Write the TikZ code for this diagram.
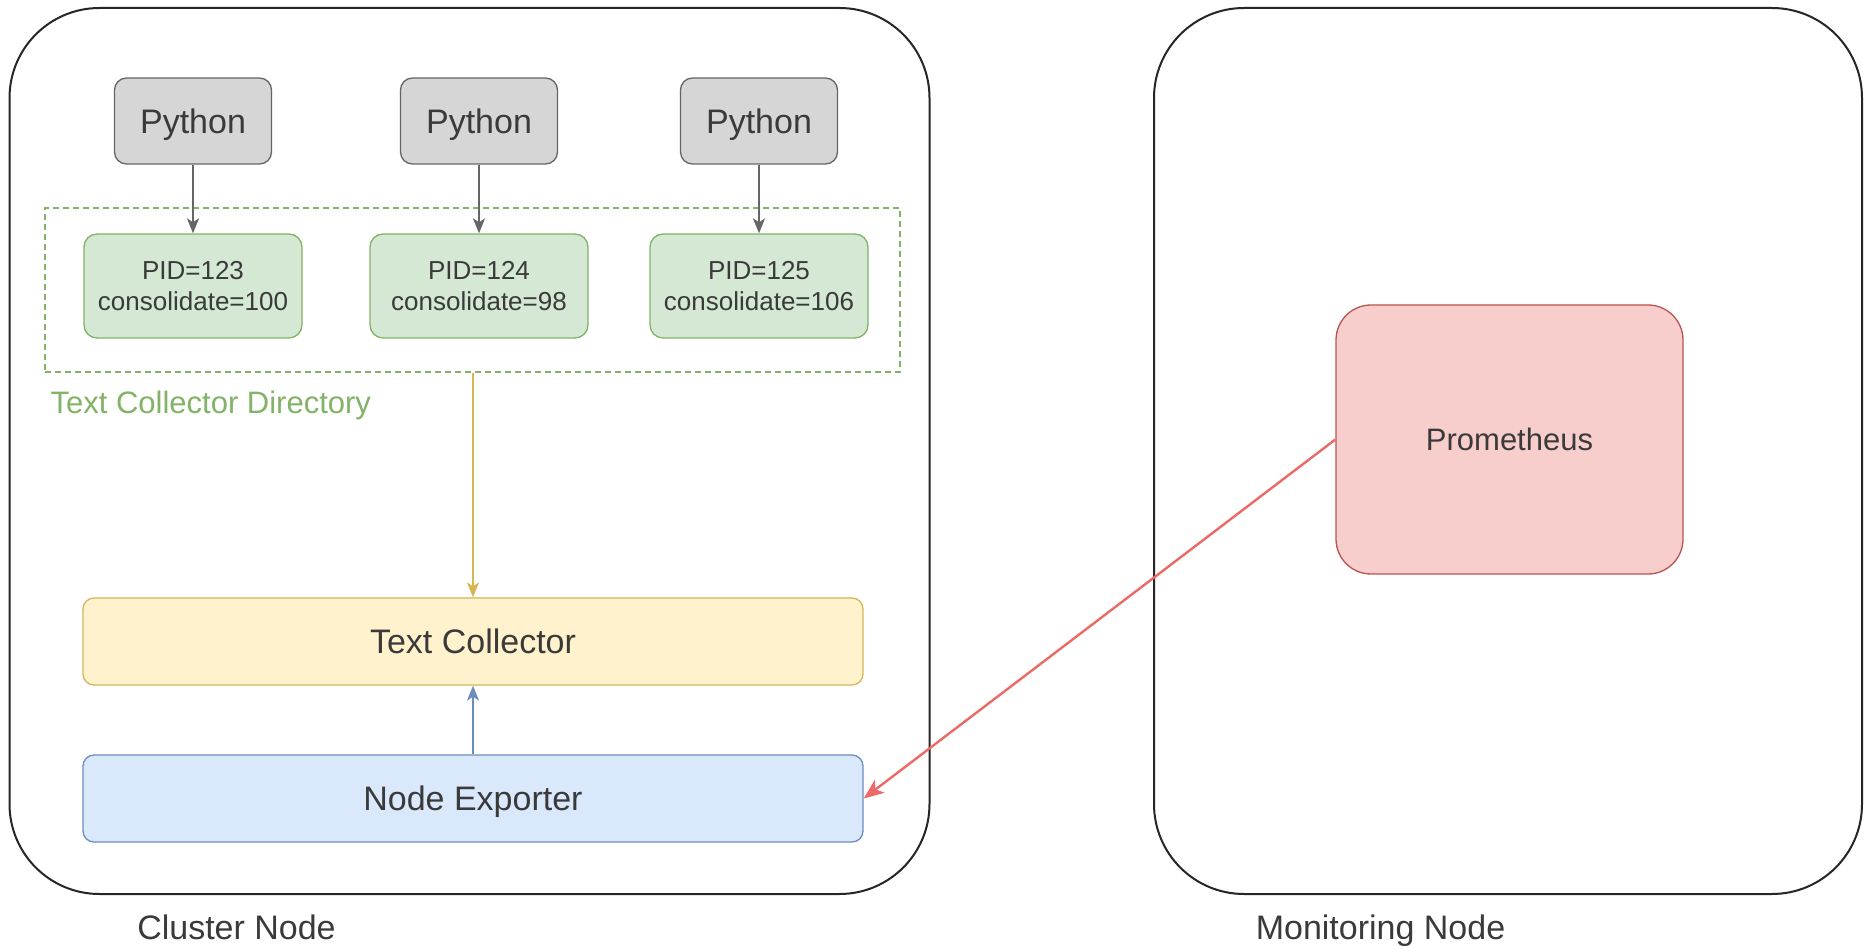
\documentclass[tikz,border=0pt]{standalone}
\usepackage{fontspec}
\setmainfont{Liberation Sans}
\usetikzlibrary{arrows.meta, positioning}
\definecolor{DrawText}{HTML}{3A3A3A}
\definecolor{GrayFill}{HTML}{D6D6D6}
\definecolor{GrayLine}{HTML}{666666}
\definecolor{GreenFill}{HTML}{D5E8D4}
\definecolor{GreenLine}{HTML}{82B366}
\definecolor{YellowFill}{HTML}{FFF2CC}
\definecolor{YellowLine}{HTML}{D6B656}
\definecolor{BlueFill}{HTML}{DAE8FC}
\definecolor{BlueLine}{HTML}{6C8EBF}
\definecolor{RedFill}{HTML}{F8CECC}
\definecolor{RedLine}{HTML}{B85450}
\definecolor{RedArrow}{HTML}{EA6B66}

\begin{document}
\begin{tikzpicture}[x = 1pt, y = 1pt, node distance = 6em]%
    %
    \tikzstyle{arrow} = [-{Stealth[length = 15pt, width = 12pt, inset = 4pt]}, line width = 1.6pt]%
    \tikzstyle{machine} = [rectangle, draw = black!85, line width = 2pt, rounded corners = 90pt, fill = white]%
    \tikzstyle{python} = [rectangle, draw = GrayLine, fill = GrayFill, line width = 1.3pt, rounded corners = 12pt, minimum width = 157pt, minimum height = 86pt, text depth = 0pt, text = DrawText, font = \fontsize{34}{40}\selectfont]%
    \tikzstyle{process} = [rectangle, draw = GreenLine, fill = GreenFill, line width = 1.3pt, rounded corners = 13pt, minimum width = 218pt, minimum height = 104pt, align = center, text = DrawText, font = \fontsize{26}{31}\selectfont]%
    \tikzstyle{bigblock} = [rectangle, line width = 1.3pt, rounded corners = 11pt, minimum width = 780pt, minimum height = 87pt, text depth = 0pt, text = DrawText, font = \fontsize{34}{40}\selectfont]%
    \tikzstyle{caption} = [anchor = base, text = DrawText, font = \fontsize{34}{40}\selectfont]%
    %
    \useasboundingbox (0, 0) rectangle (1864, -949);%
    %
    \node [machine, minimum width = 920pt, minimum height = 886pt] (cluster) at (469.5, -451) {};%
    \node [machine, minimum width = 708pt, minimum height = 886pt] (monitoring) at (1508, -451) {};%
    \node [caption] (cluster-label) at (236.5, -939) {Cluster Node};%
    \node [caption] (monitoring-label) at (1380.5, -939) {Monitoring Node};%
    %
    \node [rectangle, draw = GreenLine, dash pattern = on 6pt off 4pt, line width = 1.2pt, minimum width = 855pt, minimum height = 164pt] (directory) at (472.5, -290) {};%
    \node [anchor = north west, inner sep = 0pt, text = GreenLine, font = \fontsize{31}{37}\selectfont, below right = 18pt and 6pt of directory.south west] (directory-label) {Text Collector Directory};%
    %
    \node [python] (python-a) at (193, -121) {Python};%
    \node [python] (python-b) at (479, -121) {Python};%
    \node [python] (python-c) at (759, -121) {Python};%
    \node [process] (pid-a) at (193, -286) {PID=123\\consolidate=100};%
    \node [process] (pid-b) at (479, -286) {PID=124\\consolidate=98};%
    \node [process] (pid-c) at (759, -286) {PID=125\\consolidate=106};%
    %
    \node [bigblock, draw = YellowLine, fill = YellowFill] (text-collector) at (473, -641.5) {Text Collector};%
    \node [bigblock, draw = BlueLine, fill = BlueFill] (node-exporter) at (473, -798.5) {Node Exporter};%
    %
    \node [rectangle, draw = RedLine, fill = RedFill, line width = 1.3pt, rounded corners = 35pt, minimum width = 347pt, minimum height = 269pt, text = DrawText, font = \fontsize{31}{37}\selectfont] (prometheus) at (1509.5, -439.5) {Prometheus};%
    %
    \path [arrow, draw = GrayLine] (python-a) -- (pid-a);%
    \path [arrow, draw = GrayLine] (python-b) -- (pid-b);%
    \path [arrow, draw = GrayLine] (python-c) -- (pid-c);%
    \path [arrow, draw = YellowLine, line width = 2pt] (directory.south -| text-collector.north) -- (text-collector.north);%
    \path [arrow, draw = BlueLine, line width = 2pt] (node-exporter) -- (text-collector);%
    \path [-{Stealth[length = 20pt, width = 16pt, inset = 5pt]}, draw = RedArrow, line width = 2.4pt] (prometheus.west) -- (node-exporter.east);%
    %
\end{tikzpicture}
\end{document}
